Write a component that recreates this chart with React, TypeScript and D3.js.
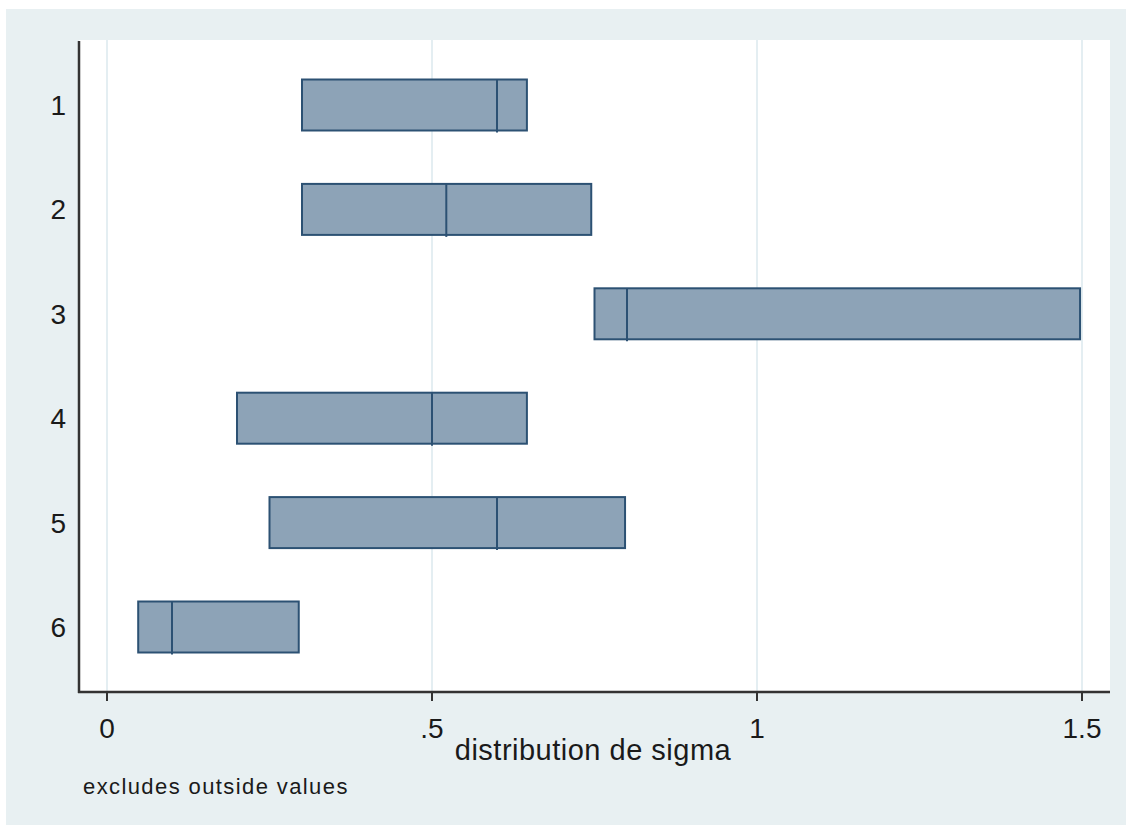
import React from "react";
import * as d3 from "d3";

const categories = ["1", "2", "3", "4", "5", "6"];
const q1 = [0.3, 0.3, 0.75, 0.2, 0.25, 0.048];
const medians = [0.6, 0.522, 0.8, 0.5, 0.6, 0.1];
const q3 = [0.646, 0.745, 1.497, 0.646, 0.797, 0.295];
const xTicks = [0, 0.5, 1, 1.5];
const xTickLabels = ["0", ".5", "1", "1.5"];
const xTitle = "distribution de sigma";
const note = "excludes outside values";

export default function App() {
  const W = 1126, H = 828;
  const plotL = 79, plotR = 1110, plotT = 40, plotB = 692;
  const x = d3.scaleLinear().domain([0, 1.5]).range([107, 1082]);
  const y = d3.scalePoint<string>().domain(categories).range([105, 627]);
  const boxH = 51;
  const font = "'Liberation Sans', Arial, sans-serif";
  const fill = "#8da3b7";
  const stroke = "#2c5173";
  return (
    <svg width={W} height={H} style={{ position: "absolute", left: 0, top: 0, display: "block" }}>
      <rect x={0} y={0} width={W} height={H} fill="#ffffff" />
      <rect x={6} y={9} width={W - 6} height={816} fill="#e8f0f2" />
      <rect x={plotL} y={plotT} width={plotR - plotL} height={plotB - plotT} fill="#ffffff" />
      {xTicks.map((t) => (
        <line key={"g" + t} x1={x(t)} x2={x(t)} y1={plotT} y2={plotB} stroke="#e4eef2" strokeWidth={2} />
      ))}
      {categories.map((c, i) => {
        const cy = y(c)!;
        return (
          <g key={c}>
            <rect x={x(q1[i])} y={cy - boxH / 2} width={x(q3[i]) - x(q1[i])} height={boxH}
              fill={fill} stroke={stroke} strokeWidth={2} />
            <line x1={x(medians[i])} x2={x(medians[i])} y1={cy - boxH / 2} y2={cy + boxH / 2 + 2}
              stroke={stroke} strokeWidth={2} />
            <text x={66} y={cy + 10} textAnchor="end" fontFamily={font} fontSize={28} fill="#1a1a1a">{c}</text>
          </g>
        );
      })}
      <line x1={plotL} x2={plotL} y1={plotT + 1} y2={plotB + 1} stroke="#333333" strokeWidth={2.5} />
      <line x1={plotL - 1} x2={plotR} y1={plotB} y2={plotB} stroke="#333333" strokeWidth={2.5} />
      {xTicks.map((t, i) => (
        <g key={"t" + t}>
          <line x1={x(t)} x2={x(t)} y1={plotB} y2={plotB + 9} stroke="#333333" strokeWidth={2} />
          <text x={x(t)} y={738} textAnchor="middle" fontFamily={font} fontSize={28} fill="#1a1a1a">{xTickLabels[i]}</text>
        </g>
      ))}
      <text x={593} y={760} textAnchor="middle" fontFamily={font} fontSize={29} letterSpacing={0.5} fill="#1a1a1a">{xTitle}</text>
      <text x={83} y={794} fontFamily={font} fontSize={22} letterSpacing={1.4} fill="#1a1a1a">{note}</text>
    </svg>
  );
}
